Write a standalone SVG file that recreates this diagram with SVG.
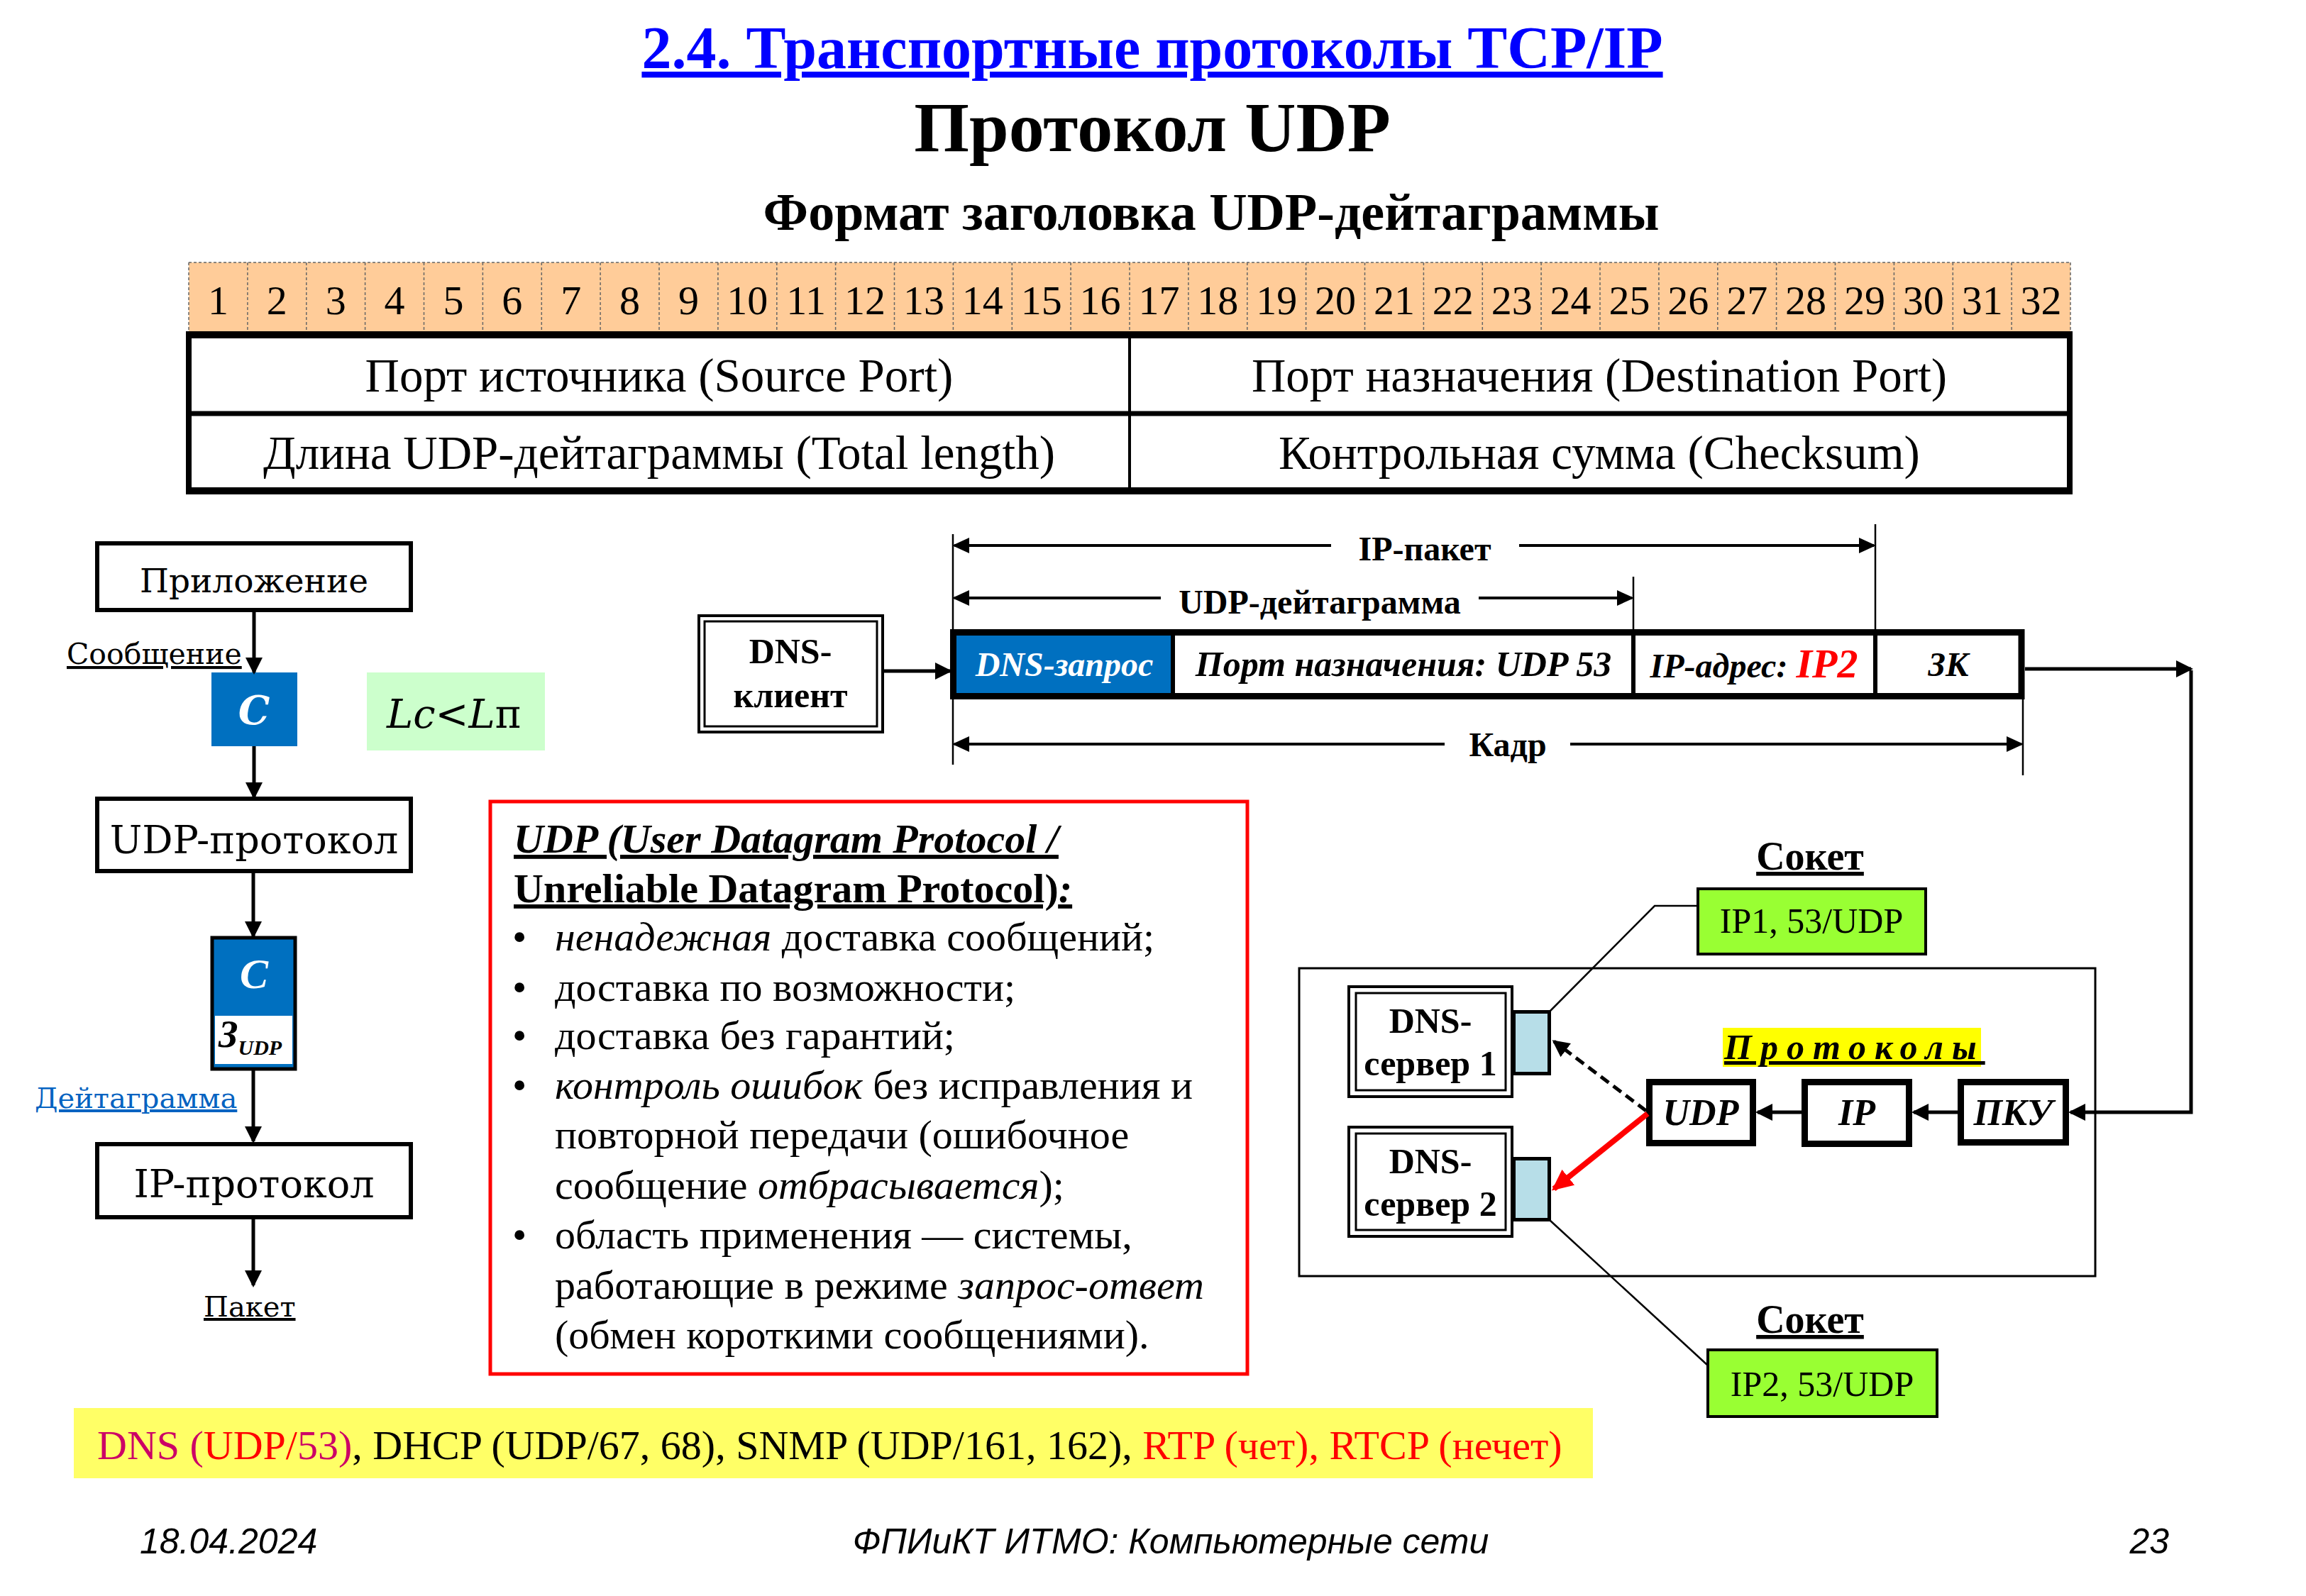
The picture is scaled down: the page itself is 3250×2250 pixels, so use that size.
<svg xmlns="http://www.w3.org/2000/svg" width="3250" height="2250" viewBox="0 0 3250 2250">
<style>
  .tm { font-family: "Liberation Serif", "Times New Roman", serif; }
  .dj { font-family: "DejaVu Serif", serif; }
  .sans { font-family: "Liberation Sans", Arial, sans-serif; }
  .b { font-weight: bold; }
  .i { font-style: italic; }
  .n { font-style: normal; }
  .u { text-decoration: underline; }
  .mid { text-anchor: middle; }
  .box { fill: #ffffff; stroke: #000000; stroke-width: 6; }
  .thin { fill: none; stroke: #000000; stroke-width: 2.5; }
  .ln { fill: none; stroke: #000000; stroke-width: 5; }
  .dim { fill: none; stroke: #000000; stroke-width: 4; }
  .bit { fill: none; stroke: #666666; stroke-width: 1.5; stroke-dasharray: 4 3; }
  .sock { fill: #B7DEE8; stroke: #000000; stroke-width: 5; }
  .green { fill: #99FF33; stroke: #000000; stroke-width: 4; }
  .proto { fill: #ffffff; stroke: #000000; stroke-width: 9; }
</style>
<defs>
  <marker id="ah" viewBox="0 0 24 24" refX="21" refY="12" markerWidth="24" markerHeight="24" markerUnits="userSpaceOnUse" orient="auto-start-reverse">
    <path d="M0,0 L24,12 L0,24 z" fill="#000000"/>
  </marker>
  <marker id="ahd" viewBox="0 0 24 22" refX="21" refY="11" markerWidth="24" markerHeight="22" markerUnits="userSpaceOnUse" orient="auto-start-reverse">
    <path d="M0,0 L24,11 L0,22 z" fill="#000000"/>
  </marker>
  <marker id="ahr" viewBox="0 0 30 28" refX="26" refY="14" markerWidth="30" markerHeight="28" markerUnits="userSpaceOnUse" orient="auto">
    <path d="M0,0 L30,14 L0,28 z" fill="#FF0000"/>
  </marker>
</defs>
<rect x="0" y="0" width="3250" height="2250" fill="#ffffff"/>

<!-- headings -->
<g id="headings">
  <text class="tm b u mid" x="1624" y="96" font-size="84" fill="#0000FF">2.4. Транспортные протоколы TCP/IP</text>
  <text class="tm b mid" x="1624" y="213" font-size="100" fill="#000000">Протокол UDP</text>
  <text class="tm b mid" x="1707" y="324" font-size="74" fill="#000000">Формат заголовка UDP-дейтаграммы</text>
</g>

<!-- header format: bit ruler and fields -->
<g id="bit-ruler">
  <rect x="266" y="370" width="2652" height="97" fill="#FFCC99"/>
  <line class="bit" x1="266" y1="370" x2="2918" y2="370"/>
  <g class="bit">
    <line x1="266" y1="370" x2="266" y2="467"/><line x1="348.9" y1="370" x2="348.9" y2="467"/><line x1="431.8" y1="370" x2="431.8" y2="467"/><line x1="514.6" y1="370" x2="514.6" y2="467"/><line x1="597.5" y1="370" x2="597.5" y2="467"/><line x1="680.4" y1="370" x2="680.4" y2="467"/><line x1="763.3" y1="370" x2="763.3" y2="467"/><line x1="846.1" y1="370" x2="846.1" y2="467"/><line x1="929" y1="370" x2="929" y2="467"/><line x1="1011.9" y1="370" x2="1011.9" y2="467"/><line x1="1094.8" y1="370" x2="1094.8" y2="467"/><line x1="1177.6" y1="370" x2="1177.6" y2="467"/><line x1="1260.5" y1="370" x2="1260.5" y2="467"/><line x1="1343.4" y1="370" x2="1343.4" y2="467"/><line x1="1426.3" y1="370" x2="1426.3" y2="467"/><line x1="1509.1" y1="370" x2="1509.1" y2="467"/><line x1="1592" y1="370" x2="1592" y2="467"/><line x1="1674.9" y1="370" x2="1674.9" y2="467"/><line x1="1757.8" y1="370" x2="1757.8" y2="467"/><line x1="1840.6" y1="370" x2="1840.6" y2="467"/><line x1="1923.5" y1="370" x2="1923.5" y2="467"/><line x1="2006.4" y1="370" x2="2006.4" y2="467"/><line x1="2089.3" y1="370" x2="2089.3" y2="467"/><line x1="2172.1" y1="370" x2="2172.1" y2="467"/><line x1="2255" y1="370" x2="2255" y2="467"/><line x1="2337.9" y1="370" x2="2337.9" y2="467"/><line x1="2420.8" y1="370" x2="2420.8" y2="467"/><line x1="2503.6" y1="370" x2="2503.6" y2="467"/><line x1="2586.5" y1="370" x2="2586.5" y2="467"/><line x1="2669.4" y1="370" x2="2669.4" y2="467"/><line x1="2752.3" y1="370" x2="2752.3" y2="467"/><line x1="2835.1" y1="370" x2="2835.1" y2="467"/><line x1="2918" y1="370" x2="2918" y2="467"/>
  </g>
  <g class="tm mid" font-size="58" fill="#000000">
    <text x="307.4" y="443">1</text><text x="390.3" y="443">2</text><text x="473.2" y="443">3</text><text x="556.1" y="443">4</text><text x="638.9" y="443">5</text><text x="721.8" y="443">6</text><text x="804.7" y="443">7</text><text x="887.6" y="443">8</text><text x="970.4" y="443">9</text><text x="1053.3" y="443">10</text><text x="1136.2" y="443">11</text><text x="1219.1" y="443">12</text><text x="1301.9" y="443">13</text><text x="1384.8" y="443">14</text><text x="1467.7" y="443">15</text><text x="1550.6" y="443">16</text><text x="1633.4" y="443">17</text><text x="1716.3" y="443">18</text><text x="1799.2" y="443">19</text><text x="1882.1" y="443">20</text><text x="1964.9" y="443">21</text><text x="2047.8" y="443">22</text><text x="2130.7" y="443">23</text><text x="2213.6" y="443">24</text><text x="2296.4" y="443">25</text><text x="2379.3" y="443">26</text><text x="2462.2" y="443">27</text><text x="2545.1" y="443">28</text><text x="2627.9" y="443">29</text><text x="2710.8" y="443">30</text><text x="2793.7" y="443">31</text><text x="2876.6" y="443">32</text>
  </g>
</g>

<g id="header-fields">
  <rect x="266" y="472" width="2651" height="220" fill="#ffffff"/>
  <line x1="262" y1="472" x2="2921" y2="472" stroke="#000" stroke-width="10"/>
  <line x1="262" y1="692" x2="2921" y2="692" stroke="#000" stroke-width="10"/>
  <line x1="266" y1="468" x2="266" y2="696" stroke="#000" stroke-width="8"/>
  <line x1="2917" y1="468" x2="2917" y2="696" stroke="#000" stroke-width="8"/>
  <line x1="266" y1="583" x2="2917" y2="583" stroke="#000" stroke-width="7"/>
  <line x1="1592" y1="472" x2="1592" y2="692" stroke="#000" stroke-width="4"/>
  <g class="tm mid" font-size="67" fill="#000000">
    <text x="929" y="552">Порт источника (Source Port)</text>
    <text x="2254" y="552">Порт назначения (Destination Port)</text>
    <text x="929" y="661">Длина UDP-дейтаграммы (Total length)</text>
    <text x="2254" y="661">Контрольная сумма (Checksum)</text>
  </g>
</g>

<!-- encapsulation stack -->
<g id="app">
  <rect class="box" x="137" y="766" width="442" height="94"/>
  <text class="dj mid" x="358" y="835" font-size="47">Приложение</text>
</g>
<g id="msg-label">
  <text class="dj u" x="94" y="936" font-size="41">Сообщение</text>
</g>
<g id="msg-block">
  <rect x="298" y="948" width="121" height="104" fill="#0070C0"/>
  <text class="dj b i mid" x="358" y="1021" font-size="56" fill="#ffffff">С</text>
</g>
<g id="length-note">
  <rect x="517" y="948" width="251" height="110" fill="#CCFFCC"/>
  <text class="dj i mid" x="640" y="1026" font-size="56" fill="#000000">Lc&lt;L<tspan class="n">п</tspan></text>
</g>
<g id="udp-layer">
  <rect class="box" x="137" y="1126" width="442" height="102"/>
  <text class="dj mid" x="358" y="1203" font-size="54">UDP-протокол</text>
</g>
<g id="datagram-block">
  <rect x="299" y="1322" width="117" height="185" fill="#0070C0" stroke="#000" stroke-width="5"/>
  <rect x="303" y="1432" width="109" height="68" fill="#ffffff"/>
  <text class="tm b i mid" x="358" y="1393" font-size="60" fill="#ffffff">С</text>
  <text class="tm b i" x="308" y="1476" font-size="54" fill="#000000">З<tspan font-size="30" dy="11">UDP</tspan></text>
</g>
<g id="dgram-label">
  <text class="dj u" x="49" y="1562" font-size="40" fill="#0563C1">Дейтаграмма</text>
</g>
<g id="ip-layer">
  <rect class="box" x="137" y="1613" width="442" height="103"/>
  <text class="dj mid" x="358" y="1688" font-size="54">IP-протокол</text>
</g>
<g id="packet-label">
  <text class="dj u" x="287" y="1856" font-size="40">Пакет</text>
</g>

<!-- UDP description -->
<g id="udp-notes">
  <rect x="691" y="1130" width="1067" height="807" fill="#ffffff" stroke="#FF0000" stroke-width="5"/>
  <g class="tm" font-size="58" fill="#000000">
    <text class="b i u" x="724" y="1202">UDP (User Datagram Protocol /</text>
    <text class="b u" x="724" y="1272">Unreliable Datagram Protocol)<tspan class="i">:</tspan></text>
    <text x="722" y="1340">•</text>
    <text x="782" y="1340"><tspan class="i">ненадежная</tspan> доставка сообщений;</text>
    <text x="722" y="1411">•</text>
    <text x="782" y="1411">доставка по возможности;</text>
    <text x="722" y="1479">•</text>
    <text x="782" y="1479">доставка без гарантий;</text>
    <text x="722" y="1549">•</text>
    <text x="782" y="1549"><tspan class="i">контроль ошибок</tspan> без исправления и</text>
    <text x="782" y="1619">повторной передачи (ошибочное</text>
    <text x="782" y="1690">сообщение <tspan class="i">отбрасывается</tspan>);</text>
    <text x="722" y="1760">•</text>
    <text x="782" y="1760">область применения — системы,</text>
    <text x="782" y="1831">работающие в режиме <tspan class="i">запрос-ответ</tspan></text>
    <text x="782" y="1901">(обмен короткими сообщениями).</text>
  </g>
</g>

<!-- frame layout -->
<g id="dns-client">
  <rect x="985" y="868" width="259" height="164" fill="#ffffff" stroke="#000" stroke-width="4"/>
  <rect x="993" y="876" width="243" height="148" fill="none" stroke="#000" stroke-width="3"/>
  <text class="tm b mid" x="1114" y="935" font-size="50">DNS-</text>
  <text class="tm b mid" x="1114" y="997" font-size="50">клиент</text>
</g>
<g id="frame">
  <rect x="1343.5" y="891.5" width="1505.5" height="90" fill="#ffffff"/>
  <rect x="1348" y="896" width="305" height="81" fill="#0070C0"/>
  <rect x="1343.5" y="891.5" width="1505.5" height="90" fill="none" stroke="#000" stroke-width="9"/>
  <line x1="1653" y1="891" x2="1653" y2="982" stroke="#000" stroke-width="6"/>
  <line x1="2302" y1="891" x2="2302" y2="982" stroke="#000" stroke-width="6"/>
  <line x1="2643" y1="891" x2="2643" y2="982" stroke="#000" stroke-width="6"/>
  <g class="tm b i mid" font-size="48">
    <text x="1500" y="953" fill="#ffffff">DNS-запрос</text>
    <text x="1978" y="953" font-size="50" fill="#000000">Порт назначения: UDP 53</text>
    <text x="2472" y="955" fill="#000000">IP-адрес: <tspan font-size="58" fill="#FF0000">IP2</tspan></text>
    <text x="2746" y="953" fill="#000000">ЗК</text>
  </g>
</g>
<g id="frame-dimensions">
  <line class="thin" x1="1343" y1="753" x2="1343" y2="1078"/>
  <line class="thin" x1="2302" y1="813" x2="2302" y2="891"/>
  <line class="thin" x1="2643" y1="739" x2="2643" y2="891"/>
  <line class="thin" x1="2851" y1="986" x2="2851" y2="1093"/>
  <line class="dim" x1="1345" y1="769" x2="1876" y2="769" marker-start="url(#ahd)"/>
  <line class="dim" x1="2141" y1="769" x2="2641" y2="769" marker-end="url(#ahd)"/>
  <text class="tm b mid" x="2008" y="790" font-size="48">IP-пакет</text>
  <line class="dim" x1="1345" y1="843" x2="1636" y2="843" marker-start="url(#ahd)"/>
  <line class="dim" x1="2084" y1="843" x2="2300" y2="843" marker-end="url(#ahd)"/>
  <text class="tm b mid" x="1860" y="865" font-size="48">UDP-дейтаграмма</text>
  <line class="dim" x1="1345" y1="1049" x2="2036" y2="1049" marker-start="url(#ahd)"/>
  <line class="dim" x1="2213" y1="1049" x2="2849" y2="1049" marker-end="url(#ahd)"/>
  <text class="tm b mid" x="2125" y="1066" font-size="48">Кадр</text>
</g>

<!-- receiving host -->
<g id="host">
  <rect x="1831" y="1365" width="1122" height="434" fill="none" stroke="#000" stroke-width="3"/>
</g>
<g id="dns-server-1">
  <rect x="1901" y="1391" width="230" height="155" fill="#ffffff" stroke="#000" stroke-width="4"/>
  <rect x="1911" y="1400" width="211" height="137" fill="none" stroke="#000" stroke-width="3"/>
  <text class="tm b mid" x="2016" y="1456" font-size="50">DNS-</text>
  <text class="tm b mid" x="2016" y="1516" font-size="50">сервер 1</text>
  <rect class="sock" x="2133.5" y="1426.5" width="50" height="87"/>
</g>
<g id="dns-server-2">
  <rect x="1901" y="1589" width="230" height="154" fill="#ffffff" stroke="#000" stroke-width="4"/>
  <rect x="1911" y="1598" width="211" height="136" fill="none" stroke="#000" stroke-width="3"/>
  <text class="tm b mid" x="2016" y="1654" font-size="50">DNS-</text>
  <text class="tm b mid" x="2016" y="1714" font-size="50">сервер 2</text>
  <rect class="sock" x="2133.5" y="1633.5" width="50" height="86"/>
</g>
<g id="protocols-label">
  <rect x="2428" y="1449" width="364" height="55" fill="#FFFF00"/>
  <text class="tm b i u" x="2430" y="1493" font-size="50" letter-spacing="12">Протоколы</text>
</g>
<g id="udp-proto">
  <rect class="proto" x="2324.5" y="1525.5" width="146" height="86"/>
  <text class="tm b i mid" x="2397" y="1586" font-size="52">UDP</text>
</g>
<g id="ip-proto">
  <rect class="proto" x="2543.5" y="1525.5" width="147" height="87"/>
  <text class="tm b i mid" x="2617" y="1586" font-size="52">IP</text>
</g>
<g id="nic-proto">
  <rect class="proto" x="2763.5" y="1525.5" width="148" height="85"/>
  <text class="tm b i mid" x="2837" y="1586" font-size="52">ПКУ</text>
</g>
<g id="socket-1">
  <text class="tm b u mid" x="2551" y="1226" font-size="56">Сокет</text>
  <rect class="green" x="2393" y="1253" width="321" height="92"/>
  <text class="tm mid" x="2553" y="1315" font-size="50">IP1, 53/UDP</text>
</g>
<g id="socket-2">
  <text class="tm b u mid" x="2551" y="1879" font-size="56">Сокет</text>
  <rect class="green" x="2407" y="1903" width="323" height="94"/>
  <text class="tm mid" x="2568" y="1968" font-size="50">IP2, 53/UDP</text>
</g>

<!-- well-known ports -->
<g id="ports-note">
  <rect x="104" y="1985" width="2141" height="99" fill="#FFFF66"/>
  <text class="tm" x="137" y="2057" font-size="58" fill="#000000"><tspan fill="#CC0066">DNS (</tspan><tspan fill="#FF0000">UDP/</tspan><tspan fill="#CC0066">53)</tspan>, DHCP (UDP/67, 68), SNMP (UDP/161, 162), <tspan fill="#FF0000">RTP (чет), RTCP (нечет)</tspan></text>
</g>

<!-- footer -->
<g id="footer" class="sans i" font-size="50" fill="#000000">
  <text x="197" y="2190">18.04.2024</text>
  <text class="mid" x="1650" y="2190">ФПИиКТ ИТМО: Компьютерные сети</text>
  <text x="3057" y="2190" text-anchor="end">23</text>
</g>

<!-- connectors -->
<g id="connectors">
  <line class="ln" x1="358" y1="860" x2="358" y2="948" marker-end="url(#ah)"/>
  <line class="ln" x1="358" y1="1052" x2="358" y2="1124" marker-end="url(#ah)"/>
  <line class="ln" x1="357" y1="1228" x2="357" y2="1320" marker-end="url(#ah)"/>
  <line class="ln" x1="357" y1="1507" x2="357" y2="1609" marker-end="url(#ah)"/>
  <line class="ln" x1="357" y1="1716" x2="357" y2="1812" marker-end="url(#ah)"/>
  <line class="ln" x1="1244" y1="946" x2="1339" y2="946" marker-end="url(#ah)"/>
  <line class="ln" x1="2854" y1="943" x2="3088" y2="943" marker-end="url(#ah)"/>
  <polyline class="ln" points="3088,945 3088,1568 2918,1568" marker-end="url(#ah)"/>
  <line class="ln" x1="2759" y1="1568" x2="2697" y2="1568" marker-end="url(#ah)"/>
  <line class="ln" x1="2539" y1="1568" x2="2477" y2="1568" marker-end="url(#ah)"/>
  <line x1="2320" y1="1566" x2="2190" y2="1468" fill="none" stroke="#000" stroke-width="5" stroke-dasharray="14 8" marker-end="url(#ah)"/>
  <line x1="2322" y1="1570" x2="2190" y2="1676" fill="none" stroke="#FF0000" stroke-width="8" marker-end="url(#ahr)"/>
  <polyline class="thin" points="2184,1426 2332,1277 2393,1277"/>
  <polyline class="thin" points="2184,1720 2407,1925"/>
</g>
</svg>
